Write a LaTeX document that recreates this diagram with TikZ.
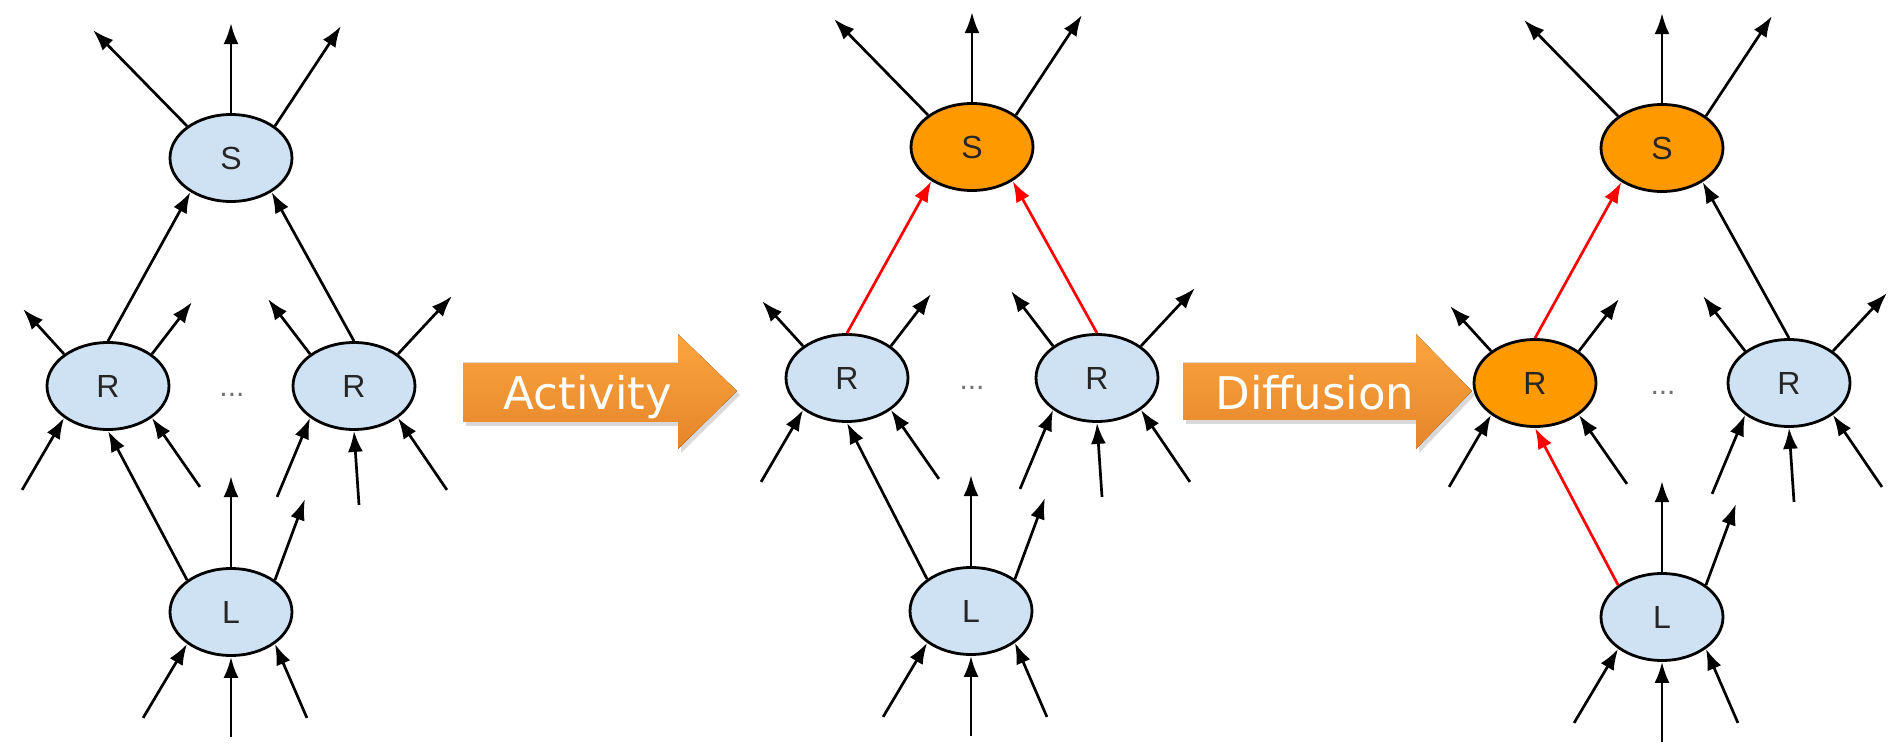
\documentclass[tikz,border=0pt]{standalone}
\usepackage{fontspec}
\setmainfont{Liberation Sans}
\newfontfamily\tagfont{DejaVu Sans}
\usetikzlibrary{arrows.meta, calc, shapes.geometric, shadows}

\definecolor{cellblue}{HTML}{CFE2F3}
\definecolor{fireorange}{HTML}{FF9900}
\definecolor{arrowtop}{HTML}{FBA53F}
\definecolor{arrowbottom}{HTML}{E5852A}

\tikzset{
  cell/.style={ellipse, draw, line width=1.4pt, fill=cellblue, minimum width=61pt,
    minimum height=43.5pt, inner sep=0pt, text=black!85, font=\fontsize{16}{18}\selectfont},
  fired/.style={cell, fill=fireorange},
  wire/.style={line width=1.35pt, -{Latex[length=10.5pt,width=7.5pt]}},
  hot/.style={wire, red},
  gap/.style={inner sep=0pt, text=black!55, font=\fontsize{15}{16}\selectfont},
  blockarrow/.style={top color=arrowtop, bottom color=arrowbottom,
    drop shadow={shadow xshift=1.5pt, shadow yshift=-2pt, opacity=0.3}},
  tag/.style={inner sep=0pt, text=white, font=\tagfont\fontsize{22.5}{24}\selectfont},
}

% stubs and inner edges of one panel: #1 prefix, #2 R1->S, #3 R2->S, #4 L->R1
\newcommand{\wirepanel}[4]{%
  % outgoing stubs
  \foreach \nd/\a/\dx/\dy [count=\i] in {S/144/-94/-96, S/90/0/-90, S/36/66/-100,
      R1/144/-41/-45, R1/36/40/-52, R2/144/-42/-55, R2/36/54/-58, L/90/0/-91, L/36/30/-81} {
    \coordinate (#1-out\i) at ($(#1-\nd.\a)+(\dx,\dy)$);
    \draw[wire] (#1-\nd.\a) -- (#1-out\i);
  }
  % incoming stubs
  \foreach \nd/\a/\dx/\dy [count=\i] in {R1/216/-42/72, R1/324/48/69, R2/216/-33/79,
      R2/270/5/74, R2/324/49/72, L/216/-44/74, L/270/0/80, L/324/32/74} {
    \coordinate (#1-in\i) at ($(#1-\nd.\a)+(\dx,\dy)$);
    \draw[wire] (#1-in\i) -- (#1-\nd.\a);
  }
  % edges between cells
  \draw[#2] (#1-R1.north) -- (#1-S.220);
  \draw[#3] (#1-R2.north) -- (#1-S.320);
  \draw[#4] (#1-L.144) -- (#1-R1.south);
}

\begin{document}
\begin{tikzpicture}[x=0.5pt, y=-0.5pt]
\useasboundingbox (0,0) rectangle (1890,748);
% First panel, nothing active
\node[cell] (p1-S) at (231,158) {S};
\node[cell] (p1-R1) at (108,386) {R};
\node[cell] (p1-R2) at (354,386) {R};
\node[cell] (p1-L) at (231,612) {L};
\node[gap] (p1-gap) at (232,395) {...};
\wirepanel{p1}{wire}{wire}{wire}
% Activity arrow
\fill[blockarrow] (463,363) -- (678,363) -- (678,334) -- (737,391) -- (678,449)
  -- (678,422) -- (463,422) -- cycle;
\node[tag, anchor=base] (activity) at (588,410) {Activity};
% Second panel, S fired
\node[fired] (p2-S) at (972,147) {S};
\node[cell] (p2-R1) at (847,378) {R};
\node[cell] (p2-R2) at (1097,378) {R};
\node[cell] (p2-L) at (971,611) {L};
\node[gap] (p2-gap) at (972,388) {...};
\wirepanel{p2}{hot}{hot}{wire}
% Diffusion arrow
\fill[blockarrow] (1183,363) -- (1416,363) -- (1416,334) -- (1472,391) -- (1416,449)
  -- (1416,420) -- (1183,420) -- cycle;
\node[tag, anchor=base] (diffusion) at (1315,410) {Diffusion};
% Third panel, S and first R fired
\node[fired] (p3-S) at (1662,148) {S};
\node[fired] (p3-R1) at (1535,383) {R};
\node[cell] (p3-R2) at (1789,383) {R};
\node[cell] (p3-L) at (1662,617) {L};
\node[gap] (p3-gap) at (1663,393) {...};
\wirepanel{p3}{hot}{wire}{hot}
\end{tikzpicture}
\end{document}
